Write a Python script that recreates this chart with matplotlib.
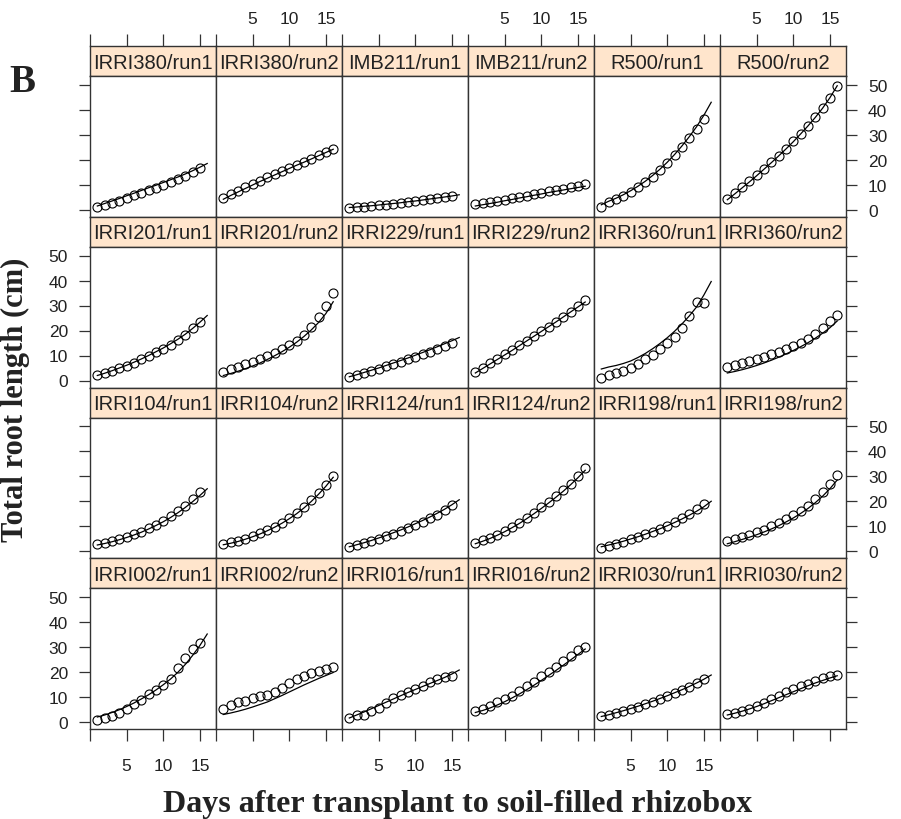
import matplotlib
matplotlib.use('Agg')
import matplotlib.pyplot as plt
from matplotlib import font_manager

# Figure size in pixels
W, H = 901, 820

# Measurement days
DAYS_RUN1 = [1, 2, 3, 4, 5, 6, 7, 8, 9, 10, 11, 12, 13, 14, 15]
DAYS_RUN2 = [1, 2, 3, 4, 5, 6, 7, 8, 9, 10, 11, 12, 13, 14, 15, 16]
DAYS_FIT = [1, 2, 3, 4, 5, 6, 7, 8, 9, 10, 11, 12, 13, 14, 15, 16]

X_TICKS = [0, 5, 10, 15]
X_TICK_LABELS = ['', '5', '10', '15']
Y_TICKS = [0, 10, 20, 30, 40, 50]

# ---- row 1 ----
irri380_run1_obs = [1.0, 1.8, 2.6, 3.6, 4.6, 5.8, 6.8, 7.8, 8.9, 9.9, 11.0, 12.2, 13.5, 15.0, 16.6]
irri380_run1_fit = [1.5, 2.5, 3.5, 4.5, 5.6, 6.6, 7.7, 8.8, 9.8, 10.9, 12.0, 13.1, 14.3, 15.6, 17.0, 18.5]
irri380_run2_obs = [4.6, 6.2, 7.6, 9.0, 10.3, 11.6, 13.0, 14.3, 15.6, 16.8, 18.0, 19.2, 20.4, 21.8, 23.0, 24.3]
irri380_run2_fit = [4.2, 5.7, 7.1, 8.5, 9.9, 11.3, 12.6, 13.9, 15.2, 16.5, 17.8, 19.0, 20.3, 21.6, 22.9, 24.2]
imb211_run1_obs = [0.8, 1.0, 1.2, 1.5, 1.8, 2.1, 2.4, 2.8, 3.1, 3.5, 3.9, 4.3, 4.7, 5.1, 5.5]
imb211_run1_fit = [0.9, 1.1, 1.4, 1.6, 1.9, 2.2, 2.5, 2.8, 3.2, 3.5, 3.9, 4.3, 4.7, 5.1, 5.5, 6.0]
imb211_run2_obs = [2.2, 2.6, 3.1, 3.6, 4.1, 4.6, 5.1, 5.6, 6.2, 6.8, 7.4, 7.9, 8.5, 9.1, 9.7, 10.3]
imb211_run2_fit = [1.5, 2.0, 2.5, 3.0, 3.6, 4.1, 4.7, 5.2, 5.8, 6.3, 6.9, 7.4, 7.9, 8.4, 8.9, 9.4]
r500_run1_obs = [1.3, 3.0, 4.2, 5.6, 7.2, 9.0, 11.0, 13.2, 15.9, 18.6, 21.8, 25.1, 28.6, 32.5, 36.5]
r500_run1_fit = [2.0, 3.4, 4.6, 6.0, 7.6, 9.4, 11.4, 13.7, 16.2, 19.0, 22.1, 25.5, 29.2, 33.2, 37.8, 43.0]
r500_run2_obs = [4.2, 6.6, 9.0, 11.4, 13.9, 16.4, 19.0, 21.7, 24.5, 27.4, 30.4, 33.6, 37.0, 40.6, 44.8, 49.4]
r500_run2_fit = [4.0, 6.3, 8.7, 11.1, 13.6, 16.2, 18.8, 21.5, 24.3, 27.2, 30.3, 33.5, 36.9, 40.6, 44.8, 49.6]

# ---- row 2 ----
irri201_run1_obs = [2.2, 3.0, 3.9, 4.9, 6.0, 7.2, 8.5, 9.9, 11.3, 12.8, 14.4, 16.2, 18.4, 21.0, 23.6]
irri201_run1_fit = [2.0, 2.9, 3.9, 5.0, 6.1, 7.3, 8.6, 10.0, 11.5, 13.0, 14.7, 16.5, 18.5, 20.8, 23.3, 26.0]
irri201_run2_obs = [3.4, 4.5, 5.6, 6.6, 7.6, 8.7, 9.9, 11.2, 12.6, 14.2, 16.0, 18.4, 21.6, 25.4, 29.8, 35.2]
irri201_run2_fit = [2.0, 2.8, 3.7, 4.7, 5.8, 7.0, 8.4, 9.9, 11.5, 13.3, 15.3, 17.6, 20.2, 23.2, 26.8, 31.5]
irri229_run1_obs = [1.3, 2.2, 3.0, 3.9, 4.8, 5.7, 6.6, 7.5, 8.5, 9.5, 10.5, 11.5, 12.6, 13.7, 15.0]
irri229_run1_fit = [1.5, 2.3, 3.2, 4.1, 5.0, 6.0, 7.0, 8.0, 9.0, 10.1, 11.2, 12.3, 13.5, 14.7, 15.9, 17.2]
irri229_run2_obs = [3.4, 5.2, 7.0, 8.8, 10.6, 12.4, 14.2, 16.0, 17.8, 19.7, 21.6, 23.5, 25.5, 27.5, 29.8, 32.2]
irri229_run2_fit = [3.0, 4.8, 6.6, 8.4, 10.2, 12.0, 13.9, 15.8, 17.7, 19.6, 21.5, 23.4, 25.4, 27.4, 29.4, 31.4]
irri360_run1_obs = [0.9, 2.4, 3.2, 4.0, 5.0, 6.6, 8.6, 10.4, 12.6, 15.0, 17.6, 21.0, 26.0, 31.6, 31.2]
irri360_run1_fit = [4.6, 5.4, 6.0, 6.8, 7.8, 9.2, 10.8, 12.7, 14.8, 17.1, 19.7, 22.6, 25.8, 29.4, 34.2, 39.6]
irri360_run2_obs = [5.6, 6.4, 7.2, 8.0, 8.8, 9.6, 10.5, 11.5, 12.6, 13.8, 15.2, 16.8, 18.8, 21.2, 23.8, 26.4]
irri360_run2_fit = [3.0, 3.6, 4.3, 5.1, 6.0, 7.0, 8.1, 9.3, 10.6, 12.0, 13.5, 15.1, 16.9, 18.9, 21.1, 23.8]

# ---- row 3 ----
irri104_run1_obs = [2.8, 3.4, 4.1, 4.9, 5.8, 6.8, 7.9, 9.2, 10.6, 12.2, 14.0, 16.0, 18.2, 20.8, 23.6]
irri104_run1_fit = [2.5, 3.1, 3.8, 4.6, 5.5, 6.5, 7.6, 8.9, 10.3, 11.8, 13.5, 15.4, 17.5, 19.8, 22.3, 25.0]
irri104_run2_obs = [3.0, 3.6, 4.3, 5.1, 6.1, 7.2, 8.5, 9.9, 11.5, 13.3, 15.4, 17.8, 20.4, 23.3, 26.6, 30.2]
irri104_run2_fit = [2.6, 3.2, 3.9, 4.8, 5.8, 6.9, 8.2, 9.6, 11.2, 13.0, 15.0, 17.3, 19.9, 22.8, 26.0, 29.6]
irri124_run1_obs = [1.7, 2.5, 3.3, 4.2, 5.1, 6.1, 7.1, 8.2, 9.3, 10.5, 11.8, 13.2, 14.7, 16.5, 18.6]
irri124_run1_fit = [1.8, 2.6, 3.4, 4.3, 5.3, 6.3, 7.4, 8.5, 9.7, 11.0, 12.3, 13.7, 15.2, 16.8, 18.6, 20.6]
irri124_run2_obs = [3.4, 4.4, 5.4, 6.6, 8.0, 9.6, 11.4, 13.3, 15.4, 17.6, 19.8, 22.0, 24.4, 27.0, 30.0, 33.4]
irri124_run2_fit = [3.0, 4.0, 5.1, 6.4, 7.8, 9.4, 11.1, 13.0, 15.0, 17.1, 19.3, 21.6, 24.0, 26.6, 29.4, 32.4]
irri198_run1_obs = [1.5, 2.3, 3.1, 3.9, 4.8, 5.8, 6.8, 7.9, 9.1, 10.3, 11.7, 13.2, 14.8, 16.8, 18.8]
irri198_run1_fit = [1.8, 2.5, 3.2, 4.0, 4.9, 5.8, 6.8, 7.9, 9.0, 10.2, 11.5, 12.9, 14.4, 16.0, 17.8, 20.0]
irri198_run2_obs = [4.1, 5.0, 5.9, 6.7, 7.6, 8.7, 10.0, 11.4, 12.8, 14.4, 16.2, 18.3, 20.8, 23.6, 26.8, 30.4]
irri198_run2_fit = [3.0, 3.8, 4.7, 5.6, 6.6, 7.7, 8.9, 10.2, 11.7, 13.3, 15.1, 17.1, 19.4, 22.0, 25.0, 28.5]

# ---- row 4 ----
irri002_run1_obs = [0.8, 1.8, 2.6, 3.8, 5.4, 7.4, 9.0, 11.2, 13.0, 14.8, 17.4, 21.6, 25.8, 29.4, 31.6]
irri002_run1_fit = [2.0, 2.8, 3.8, 4.9, 6.2, 7.6, 9.2, 10.9, 12.8, 14.9, 17.2, 19.9, 23.0, 26.6, 30.6, 35.2]
irri002_run2_obs = [5.1, 7.0, 7.9, 8.6, 9.6, 10.3, 10.8, 11.9, 13.6, 15.6, 17.4, 18.6, 19.8, 20.6, 21.3, 22.0]
irri002_run2_fit = [3.0, 3.6, 4.3, 5.1, 6.0, 7.0, 8.0, 9.3, 10.6, 12.0, 13.4, 14.8, 16.1, 17.4, 18.6, 19.8]
irri016_run1_obs = [1.8, 2.8, 3.0, 4.5, 5.8, 7.6, 9.6, 11.0, 12.0, 13.2, 14.6, 15.9, 17.2, 18.0, 18.4]
irri016_run1_fit = [1.6, 2.8, 4.0, 5.3, 6.6, 7.9, 9.2, 10.5, 11.8, 13.0, 14.2, 15.4, 16.6, 17.8, 19.2, 20.8]
irri016_run2_obs = [4.5, 5.1, 6.6, 8.0, 9.4, 10.6, 12.6, 14.6, 16.0, 18.4, 20.0, 22.0, 24.6, 26.4, 28.8, 30.2]
irri016_run2_fit = [3.8, 4.6, 5.6, 6.8, 8.1, 9.6, 11.2, 12.9, 14.7, 16.6, 18.6, 20.6, 22.7, 24.8, 27.0, 29.2]
irri030_run1_obs = [2.4, 3.0, 3.6, 4.4, 5.3, 6.2, 7.2, 8.2, 9.3, 10.4, 11.6, 12.8, 14.2, 15.8, 17.4]
irri030_run1_fit = [2.2, 2.9, 3.7, 4.5, 5.4, 6.3, 7.3, 8.3, 9.4, 10.5, 11.7, 12.9, 14.2, 15.6, 17.1, 18.8]
irri030_run2_obs = [3.1, 3.8, 4.5, 5.2, 6.4, 7.8, 9.4, 10.6, 11.9, 13.1, 14.4, 15.4, 16.5, 17.6, 18.4, 18.8]
irri030_run2_fit = [2.8, 3.5, 4.3, 5.2, 6.2, 7.3, 8.5, 9.7, 10.9, 12.1, 13.3, 14.5, 15.6, 16.6, 17.6, 18.5]

# Panel order (row by row, top to bottom)
PANELS = [
    ('IRRI380/run1', irri380_run1_obs, irri380_run1_fit),
    ('IRRI380/run2', irri380_run2_obs, irri380_run2_fit),
    ('IMB211/run1', imb211_run1_obs, imb211_run1_fit),
    ('IMB211/run2', imb211_run2_obs, imb211_run2_fit),
    ('R500/run1', r500_run1_obs, r500_run1_fit),
    ('R500/run2', r500_run2_obs, r500_run2_fit),
    ('IRRI201/run1', irri201_run1_obs, irri201_run1_fit),
    ('IRRI201/run2', irri201_run2_obs, irri201_run2_fit),
    ('IRRI229/run1', irri229_run1_obs, irri229_run1_fit),
    ('IRRI229/run2', irri229_run2_obs, irri229_run2_fit),
    ('IRRI360/run1', irri360_run1_obs, irri360_run1_fit),
    ('IRRI360/run2', irri360_run2_obs, irri360_run2_fit),
    ('IRRI104/run1', irri104_run1_obs, irri104_run1_fit),
    ('IRRI104/run2', irri104_run2_obs, irri104_run2_fit),
    ('IRRI124/run1', irri124_run1_obs, irri124_run1_fit),
    ('IRRI124/run2', irri124_run2_obs, irri124_run2_fit),
    ('IRRI198/run1', irri198_run1_obs, irri198_run1_fit),
    ('IRRI198/run2', irri198_run2_obs, irri198_run2_fit),
    ('IRRI002/run1', irri002_run1_obs, irri002_run1_fit),
    ('IRRI002/run2', irri002_run2_obs, irri002_run2_fit),
    ('IRRI016/run1', irri016_run1_obs, irri016_run1_fit),
    ('IRRI016/run2', irri016_run2_obs, irri016_run2_fit),
    ('IRRI030/run1', irri030_run1_obs, irri030_run1_fit),
    ('IRRI030/run2', irri030_run2_obs, irri030_run2_fit),
]

# Layout (pixels)
COL_EDGES = [90, 216, 342, 468, 594, 720, 846]
ROW_TOP = 47
ROW_H = 170.75
STRIP_H = 30
XLIM = (0, 17.2)
YLIM = (-2.8, 53.5)

STRIP_BG = '#ffe5cc'
EDGE = '#333333'
TXT = '#222222'
TICK_FONT = 'Liberation Sans'
TICK_SIZE = 12.5

# strip text uses a narrow face if there is one
try:
    font_manager.findfont('Liberation Sans Narrow', fallback_to_default=False)
    STRIP_FONT, STRIP_SIZE = 'Liberation Sans Narrow', 17.5
except ValueError:
    STRIP_FONT, STRIP_SIZE = 'Liberation Sans', 14.5


def px_rect(left, top, right, bottom):
    return [left / W, 1 - bottom / H, (right - left) / W, (bottom - top) / H]


fig = plt.figure(figsize=(W / 100, H / 100), dpi=100)

for i, (label, obs, fit) in enumerate(PANELS):
    r, c = divmod(i, 6)
    left, right = COL_EDGES[c], COL_EDGES[c + 1]
    s_top = ROW_TOP + r * ROW_H
    s_bot = s_top + STRIP_H
    p_bot = s_top + ROW_H

    # strip
    sax = fig.add_axes(px_rect(left, s_top, right, s_bot))
    sax.set_facecolor(STRIP_BG)
    sax.set_xlim(XLIM)
    sax.set_ylim(0, 1)
    sax.set_yticks([])
    sax.text(0.5, 0.46, label, transform=sax.transAxes, ha='center', va='center',
             fontsize=STRIP_SIZE, family=STRIP_FONT, color=TXT)
    for sp in sax.spines.values():
        sp.set_color(EDGE)
        sp.set_linewidth(1.0)
    if r == 0:
        sax.set_xticks(X_TICKS)
        sax.set_xticklabels(X_TICK_LABELS)
        sax.tick_params(axis='x', top=True, bottom=False, labeltop=(c % 2 == 1),
                        labelbottom=False, direction='out', length=8.6, width=0.9,
                        pad=6, labelsize=TICK_SIZE, colors=EDGE, labelcolor=TXT)
    else:
        sax.set_xticks([])

    # panel
    ax = fig.add_axes(px_rect(left, s_bot, right, p_bot))
    days = DAYS_RUN1 if len(obs) == len(DAYS_RUN1) else DAYS_RUN2
    ax.plot(DAYS_FIT, fit, color='black', lw=0.9)
    ax.plot(days, obs, linestyle='none', marker='o', ms=6.5, mfc='none',
            mec='black', mew=0.8)
    ax.set_xlim(XLIM)
    ax.set_ylim(YLIM)
    for sp in ax.spines.values():
        sp.set_color(EDGE)
        sp.set_linewidth(1.0)

    ax.set_yticks(Y_TICKS)
    ax.tick_params(axis='y', left=(c == 0), right=(c == 5),
                   labelleft=(c == 0 and r % 2 == 1),
                   labelright=(c == 5 and r % 2 == 0),
                   direction='out', length=7.9, width=0.9, pad=8,
                   labelsize=TICK_SIZE, colors=EDGE, labelcolor=TXT)
    ax.set_xticks(X_TICKS)
    ax.set_xticklabels(X_TICK_LABELS)
    ax.tick_params(axis='x', top=False, bottom=(r == 3),
                   labelbottom=(r == 3 and c % 2 == 0),
                   direction='out', length=8.6, width=0.9, pad=12,
                   labelsize=TICK_SIZE, colors=EDGE, labelcolor=TXT)
    for lab in ax.get_xticklabels() + ax.get_yticklabels():
        lab.set_family(TICK_FONT)
    for lab in sax.get_xticklabels():
        lab.set_family(TICK_FONT)

# axis titles
fig.text(458 / W, 1 - 812 / H, 'Days after transplant to soil-filled rhizobox',
         ha='center', va='baseline', fontsize=23, fontweight='bold',
         family='Liberation Serif', color=TXT)
fig.text(1 / W, 1 - 400 / H, 'Total root length (cm)', rotation=90,
         ha='left', va='center', fontsize=22, fontweight='bold',
         family='Liberation Serif', color=TXT)
fig.text(22 / W, 1 - 82 / H, 'B', ha='center', va='center', fontsize=28,
         fontweight='bold', family='Liberation Serif', color=TXT)

fig.savefig('out.png', dpi=100)
